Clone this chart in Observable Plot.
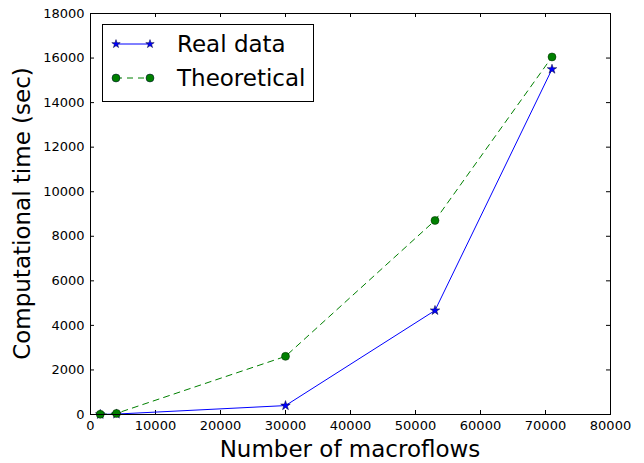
<!DOCTYPE html>
<html>
<head>
<meta charset="utf-8">
<script src="https://cdn.jsdelivr.net/npm/d3@7"></script>
<script src="https://cdn.jsdelivr.net/npm/@observablehq/plot@0.6"></script>
<style>
  html, body { margin: 0; padding: 0; background: #fff; }
  #chart { position: relative; width: 644px; height: 463px; }
  svg { font-family: "DejaVu Sans", sans-serif; }
</style>
</head>
<body>
<div id="chart"></div>
<script>
// ---- data ----
const macroflows = [1500, 4000, 30000, 53000, 71000];
const realData = [5, 20, 400, 4670, 15500];
const theoretical = [10, 50, 2610, 8710, 16050];
const xTicks = [0, 10000, 20000, 30000, 40000, 50000, 60000, 70000, 80000];
const yTicks = [0, 2000, 4000, 6000, 8000, 10000, 12000, 14000, 16000, 18000];
const seriesNames = ["Real data", "Theoretical"];
const xLabel = "Number of macroflows";
const yLabel = "Computational time (sec)";

const realRows = macroflows.map((x, i) => ({x, y: realData[i]}));
const theoRows = macroflows.map((x, i) => ({x, y: theoretical[i]}));

const W = 644, H = 463;
const mL = 90, mR = 34, mT = 13, mB = 49;
const innerW = W - mL - mR, innerH = H - mT - mB;
const tickLen = 4;
const BLUE = "#0000ff", GREEN = "#008000";

const plot = Plot.plot({
  width: W, height: H,
  marginLeft: mL, marginRight: mR, marginTop: mT, marginBottom: mB,
  style: {fontFamily: "DejaVu Sans, sans-serif", fontSize: "13px", color: "#000", background: "#fff"},
  x: {domain: [0, 80000]},
  y: {domain: [0, 18000]},
  marks: [
    // inward ticks on all four sides
    Plot.tickX(xTicks, {x: d => d, insetTop: innerH - tickLen, stroke: "#000"}),
    Plot.tickX(xTicks, {x: d => d, insetBottom: innerH - tickLen, stroke: "#000"}),
    Plot.tickY(yTicks, {y: d => d, insetRight: innerW - tickLen, stroke: "#000"}),
    Plot.tickY(yTicks, {y: d => d, insetLeft: innerW - tickLen, stroke: "#000"}),
    Plot.axisX({ticks: xTicks, tickSize: 0, tickPadding: 6, tickFormat: d3.format("d"), label: null, fontSize: 13}),
    Plot.axisY({ticks: yTicks, tickSize: 0, tickPadding: 6, tickFormat: d3.format("d"), label: null, fontSize: 13}),
    Plot.line(realRows, {x: "x", y: "y", stroke: BLUE, strokeWidth: 1}),
    Plot.line(theoRows, {x: "x", y: "y", stroke: GREEN, strokeWidth: 1, strokeDasharray: "6,5"}),
    Plot.dot(realRows, {x: "x", y: "y", symbol: "star", r: 3, fill: BLUE, stroke: "#000033", strokeWidth: 0.5}),
    Plot.dot(theoRows, {x: "x", y: "y", symbol: "circle", r: 4, fill: GREEN, stroke: "#002200", strokeWidth: 0.5}),
    Plot.frame({stroke: "#000", strokeWidth: 1})
  ]
});

document.getElementById("chart").appendChild(plot);

// axis labels and legend (layout decorations)
const svg = d3.select(plot);
svg.append("text")
  .attr("x", mL + innerW / 2).attr("y", H - 6)
  .attr("text-anchor", "middle")
  .attr("font-size", 23).attr("fill", "#000")
  .text(xLabel);
svg.append("text")
  .attr("transform", `translate(${30},${mT + innerH / 2}) rotate(-90)`)
  .attr("text-anchor", "middle")
  .attr("font-size", 23).attr("fill", "#000")
  .text(yLabel);

const lg = svg.append("g").attr("transform", "translate(102,24)");
lg.append("rect").attr("x", 0.5).attr("y", 0.5).attr("width", 211).attr("height", 77)
  .attr("fill", "#fff").attr("stroke", "#000").attr("stroke-width", 1);
const rows = [
  {name: seriesNames[0], color: BLUE, dash: "none", sym: d3.symbolStar, size: 22},
  {name: seriesNames[1], color: GREEN, dash: "6,5", sym: d3.symbolCircle, size: 50}
];
rows.forEach((r, i) => {
  const cy = 20 + i * 34;
  lg.append("line").attr("x1", 14).attr("x2", 48).attr("y1", cy).attr("y2", cy)
    .attr("stroke", r.color).attr("stroke-width", 1).attr("stroke-dasharray", r.dash);
  [14, 48].forEach(px => {
    lg.append("path").attr("d", d3.symbol(r.sym, r.size)())
      .attr("transform", `translate(${px},${cy})`)
      .attr("fill", r.color).attr("stroke", "#000033").attr("stroke-width", 0.5);
  });
  lg.append("text").attr("x", 75).attr("y", cy + 8)
    .attr("text-anchor", "start")
    .attr("font-size", 23).attr("fill", "#000").text(r.name);
});
</script>
</body>
</html>
